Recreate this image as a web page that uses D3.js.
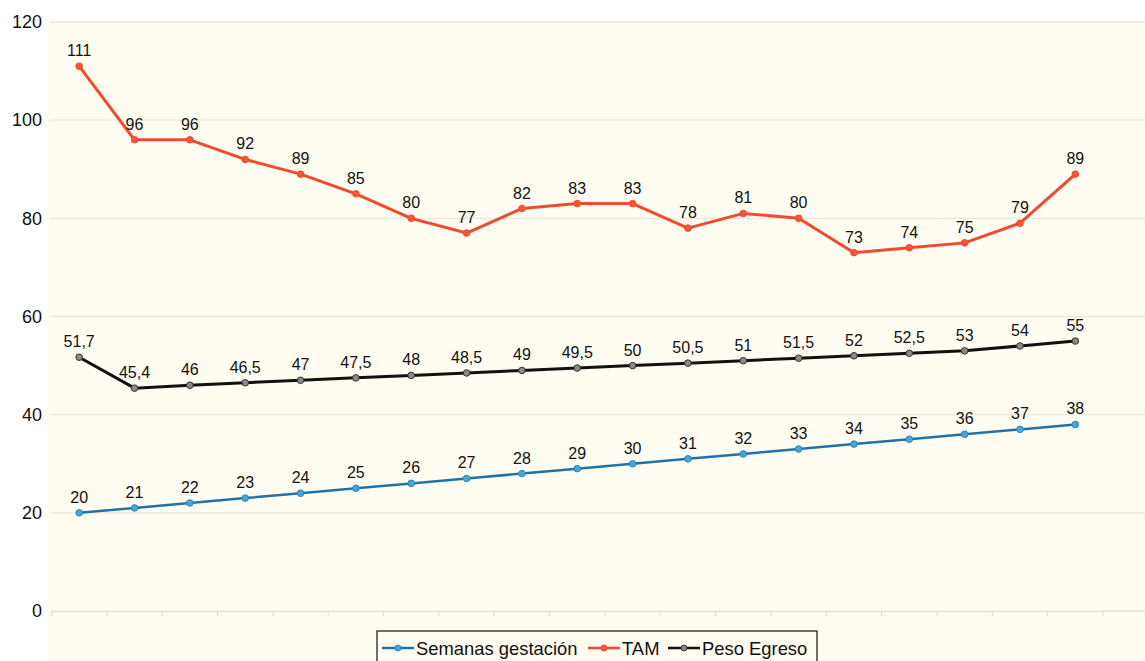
<!DOCTYPE html>
<html><head><meta charset="utf-8">
<script src="https://cdn.jsdelivr.net/npm/d3@7"></script>
<style>body{margin:0;background:#fff;} svg{display:block;font-family:"Liberation Sans",Arial,sans-serif;}</style>
</head><body>
<svg id="c" width="1145" height="661"></svg>
<script>
const categories = d3.range(1, 20).map(String);
const semanas = [20,21,22,23,24,25,26,27,28,29,30,31,32,33,34,35,36,37,38];
const tam = [111,96,96,92,89,85,80,77,82,83,83,78,81,80,73,74,75,79,89];
const peso = [51.7,45.4,46,46.5,47,47.5,48,48.5,49,49.5,50,50.5,51,51.5,52,52.5,53,54,55];
const yTicks = [0,20,40,60,80,100,120];
const seriesNames = ["Semanas gestación","TAM","Peso Egreso"];

const svg = d3.select("#c");
const W = 1145, H = 661;
svg.append("rect").attr("x",48).attr("y",22).attr("width",W-48).attr("height",H-22).attr("fill","#fffdf1");

const x = d3.scaleBand().domain(categories).range([51.5, 1103]);
const y = d3.scaleLinear().domain([0,120]).range([611, 22]);
const cx = d => x(d) + x.bandwidth()/2;

// gridlines
svg.append("g").selectAll("line").data(yTicks.filter(t=>t>0)).join("line")
  .attr("x1",50).attr("x2",W).attr("y1",d=>y(d)).attr("y2",d=>y(d))
  .attr("stroke","#ebe8da").attr("stroke-width",1.3);

// x axis
const xa = svg.append("g").attr("transform","translate(0,611)")
  .call(d3.axisBottom(x).tickSizeOuter(0).tickSize(0).tickFormat(""));
xa.select(".domain").attr("stroke","#e3e0d4").attr("stroke-width",1.3);
xa.append("line").attr("x1",1103).attr("x2",W).attr("stroke","#e3e0d4").attr("stroke-width",1.3);
xa.selectAll(".b").data(d3.range(0,20)).join("line")
  .attr("x1",i=>51.5+i*x.step()).attr("x2",i=>51.5+i*x.step()).attr("y1",0).attr("y2",5)
  .attr("stroke","#dedbd0");

// y axis labels
const ya = svg.append("g").attr("transform","translate(42,0)")
  .call(d3.axisLeft(y).tickValues(yTicks).tickSize(0).tickPadding(0));
ya.select(".domain").remove();
ya.selectAll("text").attr("font-size",18).attr("fill","#111").attr("font-family","Liberation Sans, Arial, sans-serif");

const series = [
  {name:seriesNames[0], vals:semanas, line:"#1f73a8", fill:"#4aa6d6", stroke:"#2a86ba", w:2.5},
  {name:seriesNames[1], vals:tam, line:"#f24a2e", fill:"#f4563a", stroke:"#f24a2e", w:3},
  {name:seriesNames[2], vals:peso, line:"#111111", fill:"#8a8a8a", stroke:"#333", w:3}
];
const fmt = v => String(v).replace(".", ",");

series.forEach(s => {
  const data = categories.map((c,i)=>({c, v:s.vals[i]}));
  svg.append("path").datum(data)
    .attr("d", d3.line().x(d=>cx(d.c)).y(d=>y(d.v)))
    .attr("fill","none").attr("stroke",s.line).attr("stroke-width",s.w).attr("stroke-linejoin","round");
  svg.append("g").selectAll("circle").data(data).join("circle")
    .attr("cx",d=>cx(d.c)).attr("cy",d=>y(d.v)).attr("r",3.3)
    .attr("fill",s.fill).attr("stroke",s.stroke).attr("stroke-width",1);
  svg.append("g").selectAll("text").data(data).join("text")
    .attr("x",d=>cx(d.c)).attr("y",d=>y(d.v)-10)
    .attr("text-anchor","middle").attr("font-size",16).attr("fill","#111")
    .text(d=>fmt(d.v));
});

// legend
const lg = svg.append("g");
lg.append("rect").attr("x",377).attr("y",631).attr("width",440).attr("height",40)
  .attr("fill","#fffdf1").attr("stroke","#111").attr("stroke-width",1.2);
const items = [
  {s:series[0], x:382, tx:416},
  {s:series[1], x:588, tx:622},
  {s:series[2], x:668, tx:702}
];
items.forEach(it=>{
  lg.append("line").attr("x1",it.x).attr("x2",it.x+32).attr("y1",648).attr("y2",648)
    .attr("stroke",it.s.line).attr("stroke-width",2.5);
  lg.append("circle").attr("cx",it.x+16).attr("cy",648).attr("r",3)
    .attr("fill",it.s.fill).attr("stroke",it.s.stroke).attr("stroke-width",1);
  lg.append("text").attr("x",it.tx).attr("y",655).attr("font-size",18.4).attr("fill","#111").text(it.s.name);
});
</script>
</body></html>
